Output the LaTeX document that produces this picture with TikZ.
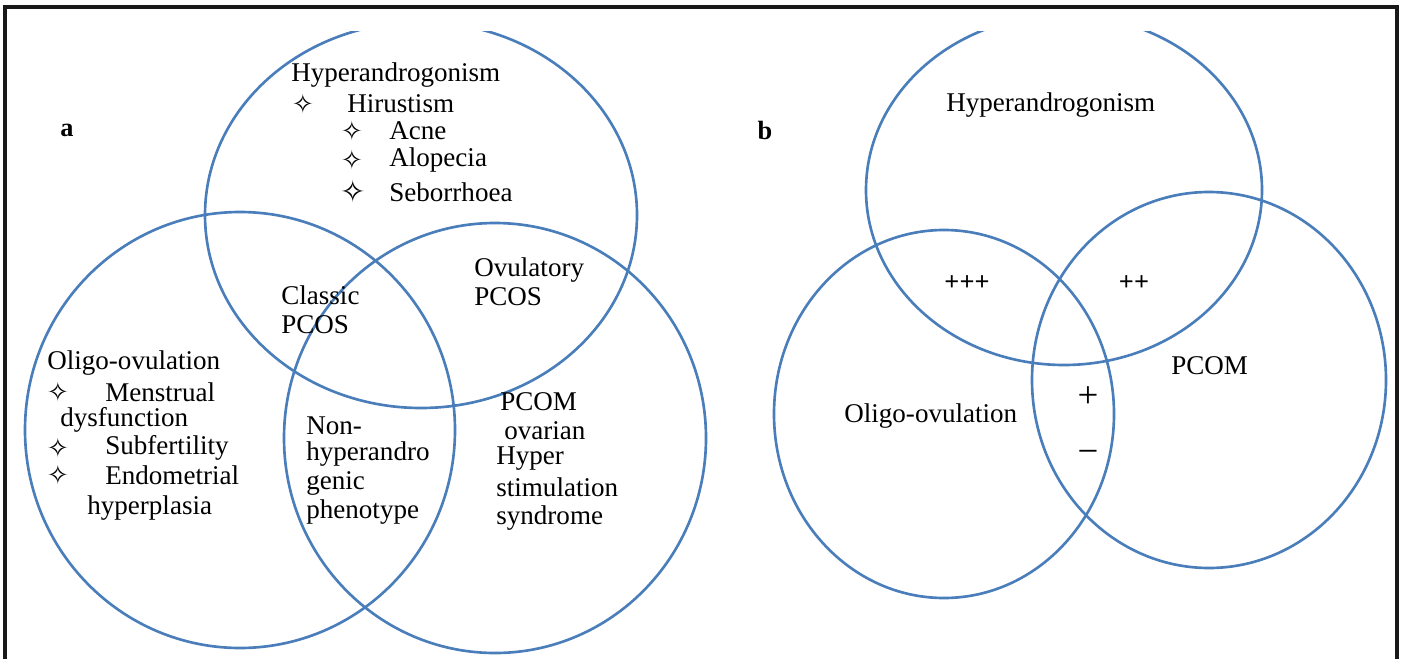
\documentclass[tikz,border=0pt]{standalone}
\usepackage{fontspec}
\setmainfont{Liberation Serif}
\newfontfamily\symfont{DejaVu Sans}
\usetikzlibrary{positioning}
\definecolor{setblue}{HTML}{4A7EBB}

\begin{document}
\begin{tikzpicture}[x=0.02cm,y=-0.02cm,
    set/.style={draw=setblue,line width=1.5pt},
    lbl/.style={anchor=west,inner sep=0pt,font=\fontsize{15.4}{17}\selectfont},
    dia/.style={inner sep=0pt,font=\symfont\fontsize{15}{17}\selectfont},
    sign/.style={inner sep=0pt,font=\fontsize{21}{24}\selectfont},
    panel/.style={inner sep=0pt,font=\fontsize{15}{17}\selectfont\bfseries}]

    % Frame
    \useasboundingbox (0,0) rectangle (1403,659);
    \draw[line width=2pt,black!90] (5,662) -- (5,7) -- (1397,7) -- (1397,662);

    % Top sets, cut at the upper edge
    \begin{scope}
      \clip (0,31) rectangle (1403,659);
      \draw[set] (421,215) ellipse [x radius=216, y radius=193];
      \draw[set] (1064,190) ellipse [x radius=198, y radius=175];
    \end{scope}

    % Sets of panel a
    \draw[set] (240,430) ellipse [x radius=215, y radius=218];
    \draw[set] (495,438) ellipse [x radius=211, y radius=215];

    % Sets of panel b
    \draw[set] (944,414) ellipse [x radius=170, y radius=184];
    \draw[set] (1209,380) ellipse [x radius=177, y radius=188];

    % Panel a labels
    \node[panel] (pa) at (67,130) {a};
    \node[lbl] (hypA) at (291,75) {Hyperandrogonism};
    \node[dia] (d1) at (303,104) {✧};
    \node[lbl] (hirs) at (347,104) {Hirustism};
    \node[dia] (d2) at (352,131) {✧};
    \node[lbl] (acne) at (389,131) {Acne};
    \node[dia] (d3) at (352,160) {✧};
    \node[lbl] (alop) at (389,160) {Alopecia};
    \node[dia,scale=1.15] (d4) at (353,191) {✧};
    \node[lbl] (sebo) at (389,192) {Seborrhoea};

    \node[lbl] (clas) at (281,295) {Classic};
    \node[lbl] (clasb) at (281,325) {PCOS};
    \node[lbl] (ovul) at (474,270) {Ovulatory};
    \node[lbl] (ovulb) at (474,297) {PCOS};

    \node[lbl] (oliA) at (47,363) {Oligo-ovulation};
    \node[dia] (d5) at (58,392) {✧};
    \node[lbl] (mens) at (105,392) {Menstrual};
    \node[lbl] (dysf) at (60,420) {dysfunction};
    \node[dia] (d6) at (58,448) {✧};
    \node[lbl] (subf) at (105,448) {Subfertility};
    \node[dia] (d7) at (58,475) {✧};
    \node[lbl] (endo) at (105,475) {Endometrial};
    \node[lbl] (hypl) at (87,508) {hyperplasia};

    \node[lbl] (non1) at (306,426) {Non-};
    \node[lbl] (non2) at (306,454) {hyperandro};
    \node[lbl] (non3) at (306,483) {genic};
    \node[lbl] (non4) at (306,512) {phenotype};

    \node[lbl] (pcA1) at (500,402) {PCOM};
    \node[lbl] (pcA2) at (504,431) {ovarian};
    \node[lbl] (pcA3) at (496,459) {Hyper};
    \node[lbl] (pcA4) at (496,487) {stimulation};
    \node[lbl] (pcA5) at (496,518) {syndrome};

    % Panel b labels
    \node[panel] (pb) at (765,130) {b};
    \node[lbl] (hypB) at (946,105) {Hyperandrogonism};
    \node[panel] (p3) at (967,283) {+++};
    \node[panel] (p2) at (1134,283) {++};
    \node[lbl] (pcB) at (1171,366) {PCOM};
    \node[lbl] (oliB) at (844,416) {Oligo-ovulation};
    \node[sign] (p1) at (1088,397) {+};
    \node[sign] (m1) at (1088,457) {−};
  \end{tikzpicture}
\end{document}
